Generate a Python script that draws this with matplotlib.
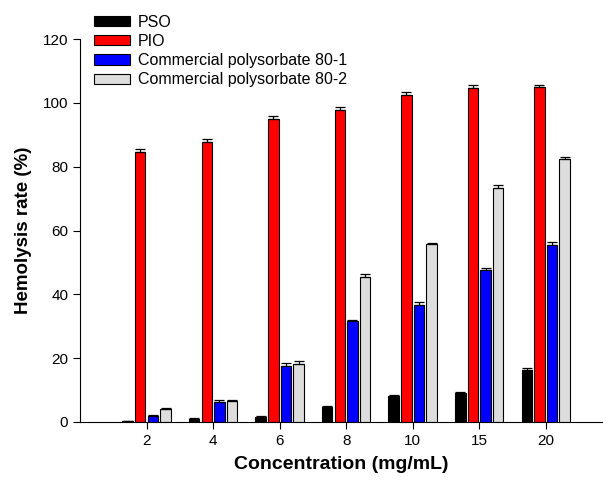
import matplotlib
matplotlib.use("Agg")
import matplotlib.pyplot as plt
import numpy as np

plt.rcParams['font.family'] = ['Liberation Sans', 'DejaVu Sans']

categories = ["2", "4", "6", "8", "10", "15", "20"]
series_names = ["PSO", "PIO", "Commercial polysorbate 80-1", "Commercial polysorbate 80-2"]
pso = [0.3, 1.0, 1.7, 4.8, 8.2, 9.2, 16.2]
pio = [84.6, 87.8, 95.0, 97.8, 102.4, 104.6, 104.9]
cp1 = [2.0, 6.4, 17.5, 31.8, 36.7, 47.6, 55.6]
cp2 = [4.0, 6.5, 18.2, 45.4, 55.7, 73.4, 82.4]
pso_err = [0.1, 0.2, 0.3, 0.3, 0.4, 0.3, 0.7]
pio_err = [1.0, 0.8, 0.8, 0.8, 0.9, 0.9, 0.7]
cp1_err = [0.3, 0.4, 1.0, 0.2, 0.8, 0.8, 0.8]
cp2_err = [0.3, 0.4, 0.9, 0.9, 0.3, 0.9, 0.8]
colors = ["black", "#ff0000", "#0000ff", "#dddddd"]

fig = plt.figure(figsize=(6.03, 4.83), dpi=100)
ax = fig.add_axes([0.1327, 0.1263, 0.8673, 0.7927])

x = np.arange(1, len(categories) + 1)
w = 0.158
step = 0.19
offsets = [-1.5 * step, -0.5 * step, 0.5 * step, 1.5 * step]
data = [pso, pio, cp1, cp2]
errs = [pso_err, pio_err, cp1_err, cp2_err]
for i in range(4):
    ax.bar(x + offsets[i], data[i], width=w, color=colors[i], edgecolor="black",
           linewidth=0.8, label=series_names[i],
           yerr=[np.zeros(len(x)), errs[i]], capsize=3.5,
           error_kw=dict(elinewidth=0.9, capthick=0.9, ecolor="black"))

ax.set_xlim(0, 7.86)
ax.set_ylim(0, 120)
ax.set_yticks(range(0, 121, 20))
ax.set_xticks(x)
ax.set_xticklabels(categories)
ax.spines['top'].set_visible(False)
ax.spines['right'].set_visible(False)
ax.tick_params(direction='out', length=5, labelsize=11)
ax.set_ylabel("Hemolysis rate (%)", fontsize=13.5, fontweight='bold', labelpad=8)
ax.set_xlabel("Concentration (mg/mL)", fontsize=14, fontweight='bold', labelpad=6)

fig.legend(loc='upper left', bbox_to_anchor=(0.138, 0.993), frameon=False, fontsize=11.5,
           handlelength=2.25, handleheight=0.62, labelspacing=0.27, handletextpad=0.45,
           borderaxespad=0.3)

fig.savefig("out.png", dpi=100)
